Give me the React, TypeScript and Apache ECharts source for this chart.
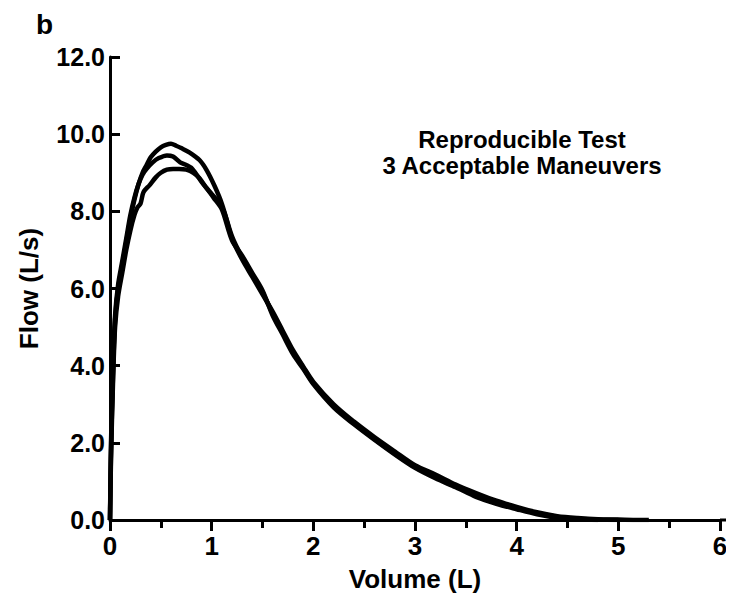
import React, { useEffect, useRef } from "react";
import * as echarts from "echarts";

const xTicks = [0, 1, 2, 3, 4, 5, 6];
const yTicks = [0, 2, 4, 6, 8, 10, 12];

const volA = [0, 0.01, 0.03, 0.05, 0.08, 0.12, 0.16, 0.2, 0.24, 0.28, 0.32, 0.36, 0.4, 0.45, 0.5, 0.55, 0.6, 0.65, 0.7, 0.78, 0.88, 0.95, 1.03, 1.1, 1.2, 1.3, 1.4, 1.5, 1.6, 1.7, 1.8, 1.9, 2.0, 2.2, 2.4, 2.6, 2.8, 3.0, 3.2, 3.4, 3.6, 3.8, 4.0, 4.2, 4.4, 4.6, 4.8, 5.0];
const flowA = [0, 1.8, 3.8, 5.2, 6.0, 6.6, 7.2, 7.8, 8.3, 8.7, 9.0, 9.2, 9.4, 9.55, 9.66, 9.72, 9.75, 9.7, 9.64, 9.53, 9.33, 9.07, 8.65, 8.2, 7.35, 6.8, 6.35, 5.9, 5.35, 4.85, 4.35, 3.95, 3.55, 2.95, 2.5, 2.1, 1.72, 1.38, 1.12, 0.88, 0.64, 0.44, 0.3, 0.18, 0.08, 0.03, 0.01, 0];

const volB = [0, 0.01, 0.03, 0.05, 0.08, 0.12, 0.16, 0.2, 0.24, 0.28, 0.32, 0.36, 0.42, 0.48, 0.56, 0.62, 0.69, 0.75, 0.81, 0.91, 1.0, 1.05, 1.12, 1.2, 1.3, 1.4, 1.5, 1.6, 1.7, 1.8, 1.9, 2.0, 2.2, 2.4, 2.6, 2.8, 3.0, 3.2, 3.4, 3.6, 3.8, 4.0, 4.2, 4.4, 4.6, 4.8, 5.0, 5.2, 5.3];
const flowB = [0, 2.0, 4.0, 5.3, 6.1, 6.7, 7.3, 7.9, 8.35, 8.7, 8.95, 9.1, 9.27, 9.38, 9.45, 9.42, 9.27, 9.2, 9.1, 8.73, 8.45, 8.3, 8.0, 7.3, 6.75, 6.3, 5.85, 5.4, 4.9, 4.4, 3.98, 3.58, 3.0, 2.55, 2.15, 1.78, 1.42, 1.18, 0.92, 0.7, 0.5, 0.34, 0.2, 0.1, 0.05, 0.02, 0.01, 0, 0];

const volC = [0, 0.01, 0.03, 0.05, 0.08, 0.12, 0.16, 0.2, 0.24, 0.27, 0.3, 0.33, 0.39, 0.45, 0.5, 0.56, 0.62, 0.68, 0.75, 0.82, 0.88, 0.95, 1.02, 1.1, 1.2, 1.3, 1.4, 1.5, 1.6, 1.7, 1.8, 1.9, 2.0, 2.2, 2.4, 2.6, 2.8, 3.0, 3.2, 3.4, 3.6, 3.8, 4.0, 4.2, 4.4, 4.6, 4.8];
const flowC = [0, 1.6, 3.6, 5.0, 5.8, 6.4, 7.0, 7.5, 7.9, 8.1, 8.2, 8.5, 8.68, 8.88, 9.0, 9.08, 9.1, 9.1, 9.08, 9.0, 8.86, 8.6, 8.35, 8.05, 7.25, 6.85, 6.4, 5.95, 5.3, 4.8, 4.3, 3.92, 3.52, 2.92, 2.48, 2.08, 1.7, 1.35, 1.08, 0.85, 0.6, 0.42, 0.28, 0.15, 0.06, 0.02, 0];

const annotationLines = ["Reproducible Test", "3 Acceptable Maneuvers"];
const panelLabel = "b";

const FONT = "'Liberation Sans', Arial, Helvetica, sans-serif";

const zip = (xs: number[], ys: number[]) => xs.map((x, i) => [x, ys[i]]);

export default function App() {
  const ref = useRef<HTMLDivElement>(null);
  useEffect(() => {
    if (!ref.current) return;
    const chart = echarts.init(ref.current, undefined, { renderer: "svg" });
    const lineSeries = (name: string, data: number[][]) => ({
      name,
      type: "line",
      data,
      showSymbol: false,
      smooth: 0.3,
      lineStyle: { color: "#000", width: 4.5 },
      silent: true,
    });
    chart.setOption({
      animation: false,
      backgroundColor: "#fff",
      grid: { left: 110, right: 14, top: 57, bottom: 82 },
      xAxis: {
        type: "value",
        min: xTicks[0],
        max: xTicks[xTicks.length - 1],
        interval: 1,
        name: "Volume (L)",
        nameLocation: "middle",
        nameGap: 46,
        nameTextStyle: { color: "#000", fontSize: 26, fontWeight: "bold", fontFamily: FONT },
        axisLine: { onZero: false, lineStyle: { color: "#000", width: 3 } },
        axisTick: { show: true, length: 11, lineStyle: { color: "#000", width: 3 } },
        minorTick: { show: true, splitNumber: 2, length: 8, lineStyle: { color: "#000", width: 3 } },
        axisLabel: { color: "#000", fontSize: 26, fontWeight: "bold", fontFamily: FONT, margin: 13 },
        splitLine: { show: false },
        minorSplitLine: { show: false },
      },
      yAxis: {
        type: "value",
        min: yTicks[0],
        max: yTicks[yTicks.length - 1],
        interval: 2,
        name: "Flow (L/s)",
        nameLocation: "middle",
        nameGap: 68,
        nameTextStyle: { color: "#000", fontSize: 26, fontWeight: "bold", fontFamily: FONT },
        axisLine: { onZero: false, lineStyle: { color: "#000", width: 3 } },
        axisTick: { show: true, inside: true, length: 10, lineStyle: { color: "#000", width: 3 } },
        axisLabel: {
          color: "#000",
          fontSize: 25,
          fontWeight: "bold",
          fontFamily: FONT,
          margin: 5,
          formatter: (v: number) => v.toFixed(1),
        },
        splitLine: { show: false },
      },
      graphic: [
        {
          type: "text",
          x: 36,
          y: 10,
          style: { text: panelLabel, fill: "#000", font: `bold 28px ${FONT}` },
        },
        {
          type: "text",
          x: 522,
          y: 126,
          style: {
            text: annotationLines.join("\n"),
            fill: "#000",
            font: `bold 24px ${FONT}`,
            align: "center",
            lineHeight: 26,
          },
        },
        {
          type: "line",
          shape: { x1: 720, y1: 520, x2: 734, y2: 520 },
          style: { stroke: "#000", lineWidth: 3 },
        },
      ],
      series: [
        lineSeries("A", zip(volA, flowA)),
        lineSeries("B", zip(volB, flowB)),
        lineSeries("C", zip(volC, flowC)),
      ],
    });
    return () => chart.dispose();
  }, []);
  return <div ref={ref} style={{ width: 734, height: 602, margin: -8 }} />;
}
